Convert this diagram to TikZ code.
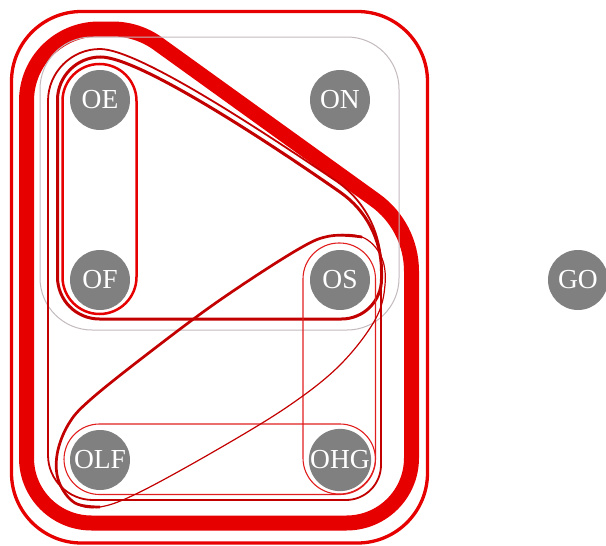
\documentclass[tikz,border=0pt]{standalone}
\usepackage{fontspec}
\setmainfont{Liberation Serif}
\definecolor{hred}{RGB}{230,0,0}
\definecolor{hdark}{RGB}{195,0,0}
\definecolor{hlight}{RGB}{225,30,30}
\definecolor{hgray}{RGB}{195,185,190}
\definecolor{nodegray}{RGB}{128,128,128}
\begin{document}
\begin{tikzpicture}[x=1pt,y=-1pt,
  hnode/.style={circle, fill=nodegray, minimum size=60pt, inner sep=0pt, text=white,
    font=\fontsize{27.5}{30}\selectfont},
  outeredge/.style={hred, line width=3.3pt},
  thickedge/.style={hred, line width=15pt},
  grayedge/.style={hgray, line width=1pt},
  darkedge/.style={hdark, line width=1.8pt},
  triedge/.style={hdark, line width=3pt},
  pilledge/.style={hred, line width=2.5pt},
  thinedge/.style={hlight, line width=1.1pt},
  lensthin/.style={hdark, line width=1.2pt},
  lensthick/.style={hdark, line width=2.7pt}]
\useasboundingbox (0,0) rectangle (606,546);
% outer hyperedge
\draw[outeredge, rounded corners=70pt] (11.5,11.5) rectangle (427.5,543);
% thick hyperedge
\draw[thickedge] (26.5,101) .. controls (26.5,61) and (59,29) .. (99,29) -- (112.5,29)
  .. controls (128.75,29) and (144.6,34.1) .. (157.8,43.6) -- (375,200)
  .. controls (398,216.5) and (411.5,243) .. (411.5,271.3) -- (411.5,458)
  .. controls (411.5,493.9) and (382.4,523) .. (346.5,523) -- (91.5,523)
  .. controls (55.6,523) and (26.5,493.9) .. (26.5,458) -- cycle;
% gray hyperedge
\draw[grayedge, rounded corners=52pt] (40,37) rectangle (399,330);
% dark thin hyperedge
\draw[darkedge] (48,101) .. controls (48,72.3) and (71.3,49) .. (100,49)
  .. controls (140,49) and (273,138.6) .. (335.3,180.4)
  .. controls (363.9,199.5) and (381,231.6) .. (381,266) -- (381,465)
  .. controls (381,484.3) and (365.3,500) .. (346,500) -- (93,500)
  .. controls (68.2,500) and (48,479.8) .. (48,455) -- cycle;
% triangle hyperedge
\draw[triedge] (57.5,100) .. controls (57.5,76.3) and (76.8,57) .. (100.5,57)
  .. controls (140,57) and (275,146.6) .. (340.5,192.4)
  .. controls (366.2,210.4) and (381.5,239.6) .. (381.5,271) -- (381.5,279)
  .. controls (381.5,301.1) and (363.6,319) .. (341.5,319) -- (99.5,319)
  .. controls (76.3,319) and (57.5,300.2) .. (57.5,277) -- cycle;
% pills
\draw[pilledge, rounded corners=37pt] (62.5,64) rectangle (136.5,314);
\draw[thinedge, rounded corners=36pt] (303,243) rectangle (375.5,494);
\draw[thinedge, rounded corners=35.5pt] (64,424) rectangle (375.5,494.5);
% lens hyperedge
\draw[lensthin] plot[smooth cycle, tension=0.6] coordinates {(57,455) (68,425) (90,400)
  (150,352) (220,300) (297,250) (330,236) (362,237) (381,256) (385,285) (375,320)
  (340,365) (290,405) (220,448) (140,492) (100,507) (75,503) (59,482)};
\draw[lensthick] plot[smooth, tension=0.6] coordinates {(100,507) (75,503) (59,482)
  (57,455) (68,425) (90,400) (150,352) (220,300) (297,250) (330,236) (362,237)};
% nodes
\node[hnode] (OE) at (100,100) {OE};
\node[hnode] (ON) at (340,100) {ON};
\node[hnode] (OF) at (100,280) {OF};
\node[hnode] (OS) at (340,280) {OS};
\node[hnode] (GO) at (578,280) {GO};
\node[hnode] (OLF) at (100,460) {OLF};
\node[hnode] (OHG) at (340,460) {OHG};
\end{tikzpicture}
\end{document}
